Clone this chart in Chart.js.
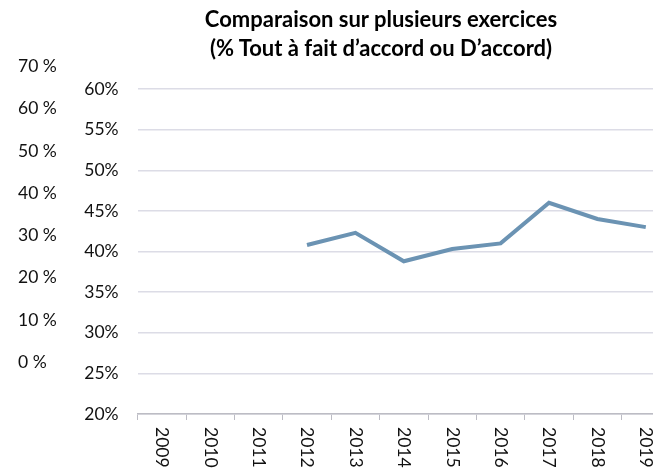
<!DOCTYPE html>
<html>
<head>
<meta charset="utf-8">
<script src="https://cdn.jsdelivr.net/npm/chart.js@4/dist/chart.umd.min.js"></script>
<style>
  html, body { margin: 0; padding: 0; background: #fff; overflow: hidden; width: 653px; height: 470px; }
  #title {
    position: absolute; left: 161px; top: 4px; width: 440px;
    text-align: center; font: bold 22px Lato, sans-serif; line-height: 29px; color: #000;
  }
  #wrap { position: absolute; left: 0; top: 0; width: 672px; height: 470px; }
</style>
</head>
<body>
<div id="wrap"><canvas id="chart"></canvas></div>
<div id="title">Comparaison sur plusieurs exercices<br>(% Tout à fait d’accord ou D’accord)</div>
<script>
// années
const years = ['2009','2010','2011','2012','2013','2014','2015','2016','2017','2018','2019'];
// % Tout à fait d'accord ou D'accord (pas de données avant 2012)
const values = [null, null, null, 40.8, 42.3, 38.8, 40.3, 41.0, 46.0, 44.0, 43.0];
// graduations de l'axe principal
const mainTicks = [20, 25, 30, 35, 40, 45, 50, 55, 60];
// graduations de l'axe de gauche (resté dans le graphique d'origine)
const outerTicks = [0, 10, 20, 30, 40, 50, 60, 70];

const tickFont = { family: 'Lato', size: 17.5 };
const textColor = '#111';

// les années sont écrites de haut en bas (rotation horaire)
const yearLabels = {
    id: 'yearLabels',
    afterDraw(chart) {
        const sc = chart.scales.x;
        const ctx = chart.ctx;
        ctx.save();
        ctx.fillStyle = textColor;
        ctx.font = tickFont.size + 'px ' + tickFont.family;
        ctx.textAlign = 'left';
        ctx.textBaseline = 'middle';
        years.forEach((y, i) => {
            ctx.save();
            ctx.translate(sc.getPixelForTick(i), sc.top + 13);
            ctx.rotate(Math.PI / 2);
            ctx.fillText(y, 0, 0);
            ctx.restore();
        });
        ctx.restore();
    }
};

new Chart(document.getElementById('chart'), {
    type: 'line',
    data: {
        labels: years,
        datasets: [{
            data: values,
            borderColor: '#6b93b3',
            borderWidth: 4,
            pointRadius: 0,
            tension: 0,
            spanGaps: false
        }]
    },
    options: {
        responsive: true,
        maintainAspectRatio: false,
        animation: false,
        layout: { padding: { top: 89, left: 18, right: 2, bottom: 50 } },
        plugins: { legend: { display: false }, tooltip: { enabled: false }, title: { display: false } },
        scales: {
            x: {
                offset: true,
                grid: { offset: true, drawOnChartArea: false, drawTicks: true, tickLength: 6, color: '#bcbcc4' },
                border: { display: true, color: '#bcbcc4', width: 1.5 },
                ticks: { display: false }
            },
            y: {
                min: 20, max: 60,
                weight: 0,
                afterBuildTicks: s => { s.ticks = mainTicks.map(v => ({ value: v })); },
                afterFit: s => { s.width = 56; },
                grid: { color: '#dcdce6', lineWidth: 1.5, drawTicks: false },
                border: { display: false },
                ticks: { padding: 19, autoSkip: false, color: textColor, font: tickFont, callback: v => v + '%' }
            },
            y2: {
                position: 'left',
                weight: 1,
                min: -12.3, max: 64.7,
                afterBuildTicks: s => { s.ticks = outerTicks.map(v => ({ value: v })); },
                afterFit: s => { s.width = 63.6; },
                grid: { display: false, drawTicks: false },
                border: { display: false },
                ticks: { crossAlign: 'far', autoSkip: false, padding: 0, color: textColor, font: tickFont, callback: v => v + ' %' }
            }
        }
    },
    plugins: [yearLabels]
});
</script>
</body>
</html>
